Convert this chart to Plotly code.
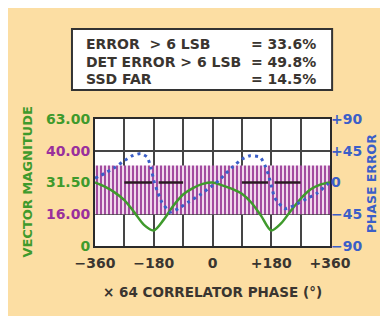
import plotly.graph_objects as go

# ---- data ----
phase_x = [-360, -330, -300, -270, -240, -210, -180, -150, -120, -90, -60, -30, 0,
           30, 60, 90, 120, 150, 180, 210, 240, 270, 300, 330, 360]
# vector magnitude, expressed on the grid scale (0 line = 31.50 level)
magnitude = [0, -6, -14, -25, -42, -60, -68, -53, -33, -17, -8, -2, 0,
             -4, -9, -16, -29, -48, -68, -58, -40, -23, -10, -3, 0]

err_x = [-360, -330, -300, -270, -245, -220, -200, -188, -180, -170, -155, -130, -105,
         -75, -40, -5, 20, 39, 59, 90, 115, 146, 161, 172, 181, 191, 221, 252, 288, 318, 354, 360]
phase_err = [6, 13, 21, 31, 38, 41, 36, 20, 3, -11, -28, -42, -37,
             -28, -18, -6, 3, 12, 21, 33, 38, 36, 24, 10, -6, -22, -37, -32, -23, -16, -2, 0]

band_x = [-360, 360]
band_top = 24
band_bottom = -45

ref_x = [-270, -185, None, -165, -90, None, 90, 170, None, 190, 270]
ref_y = [0, 0, None, 0, 0, None, 0, 0, None, 0, 0]

x_ticks = [-360, -270, -180, -90, 0, 90, 180, 270, 360]
x_labels = ["\u2212360", "", "\u2212180", "", "0", "", "+180", "", "+360"]
y_ticks = [-90, -45, 0, 45, 90]
mag_labels = ["0", "16.00", "31.50", "40.00", "63.00"]
mag_colors = ["#3f9a2c", "#9a2f9c", "#3f9a2c", "#9a2f9c", "#3f9a2c"]
phase_labels = ["\u221290", "\u221245", "0", "+45", "+90"]

summary_left = ["ERROR  > 6 LSB", "DET ERROR > 6 LSB", "SSD FAR"]
summary_right = ["= 33.6%", "= 49.8%", "= 14.5%"]

GREEN = "#3f9a2c"
BLUE = "#3b5fc8"
DARK = "#3a3530"
BG = "#fcdea3"
FONT = "DejaVu Sans"

fig = go.Figure()

# magenta noisy band
fig.add_trace(go.Scatter(
    x=[band_x[0], band_x[1], band_x[1], band_x[0], band_x[0]],
    y=[band_top, band_top, band_bottom, band_bottom, band_top],
    fill="toself", mode="lines", line=dict(width=0),
    fillcolor="#c48ac2",
    fillpattern=dict(shape="|", fgcolor="#9a3c98", bgcolor="#f0d8ec",
                     size=4, solidity=0.45, fillmode="replace"),
    yaxis="y", hoverinfo="skip"))

# dark reference segments
fig.add_trace(go.Scatter(x=ref_x, y=ref_y, mode="lines",
                         line=dict(color="#2a1a22", width=2.5), yaxis="y",
                         connectgaps=False))

# vector magnitude
fig.add_trace(go.Scatter(x=phase_x, y=magnitude, mode="lines",
                         line=dict(color=GREEN, width=2.5, shape="spline", smoothing=0.8),
                         yaxis="y"))

# phase error
fig.add_trace(go.Scatter(x=err_x, y=phase_err, mode="lines",
                         line=dict(color=BLUE, width=3, dash="3px,4px", shape="spline", smoothing=0.5),
                         yaxis="y2"))

grid = dict(showgrid=True, gridcolor="#454545", gridwidth=1.5)

fig.update_layout(
    width=373, height=308,
    margin=dict(l=87, r=51, t=111, b=70),
    paper_bgcolor=BG, plot_bgcolor="white",
    showlegend=False,
    font=dict(family=FONT, size=13, color=DARK),
    xaxis=dict(range=[-360, 360], tickvals=x_ticks, ticktext=x_labels,
               tickfont=dict(family=FONT, size=14, weight="bold", color=DARK),
               ticklabelstandoff=3,
               showline=True, linecolor="#2a2a2a", linewidth=2, mirror=True,
               zeroline=False, ticks="", **grid),
    yaxis=dict(range=[-90, 90], tickvals=y_ticks,
               ticktext=[f"<span style='color:{c}'>{t}</span>" for t, c in zip(mag_labels, mag_colors)],
               tickfont=dict(family=FONT, size=14, weight="bold", color=GREEN),
               showline=True, linecolor="#2a2a2a", linewidth=2, mirror=True,
               zeroline=False, ticks="", **grid),
    yaxis2=dict(range=[-90, 90], tickvals=y_ticks, ticktext=phase_labels,
                overlaying="y", side="right", showgrid=False, zeroline=False,
                tickfont=dict(family=FONT, size=14, weight="bold", color=BLUE),
                ticks=""),
)

# summary box
fig.add_shape(type="rect", xref="paper", yref="paper",
              x0=-0.098, x1=1.009, y0=1.228, y1=1.709,
              line=dict(color="#333333", width=2), fillcolor="white", layer="above")
line_y = [1.591, 1.452, 1.313]
for t, v, yy in zip(summary_left, summary_right, line_y):
    fig.add_annotation(text=t, xref="paper", yref="paper", x=-0.045, y=yy,
                       xanchor="left", yanchor="middle", showarrow=False,
                       font=dict(family=FONT, size=14, weight="bold", color=DARK))
    fig.add_annotation(text=v, xref="paper", yref="paper", x=0.95, y=yy,
                       xanchor="right", yanchor="middle", showarrow=False,
                       font=dict(family=FONT, size=14, weight="bold", color=DARK))

# axis titles
fig.add_annotation(text="VECTOR MAGNITUDE", xref="paper", yref="paper", x=-0.289, y=0.5,
                   textangle=-90, showarrow=False, xanchor="center", yanchor="middle",
                   font=dict(family=FONT, size=13, weight="bold", color=GREEN))
fig.add_annotation(text="PHASE ERROR", xref="paper", yref="paper", x=1.177, y=0.49,
                   textangle=-90, showarrow=False, xanchor="center", yanchor="middle",
                   font=dict(family=FONT, size=12.5, weight="bold", color=BLUE))
fig.add_annotation(text="\u00d7 64 CORRELATOR PHASE (\u00b0)", xref="paper", yref="paper",
                   x=0.502, y=-0.362, showarrow=False, xanchor="center", yanchor="middle",
                   font=dict(family=FONT, size=13.5, weight="bold", color=DARK))

fig.write_html("out.html")
